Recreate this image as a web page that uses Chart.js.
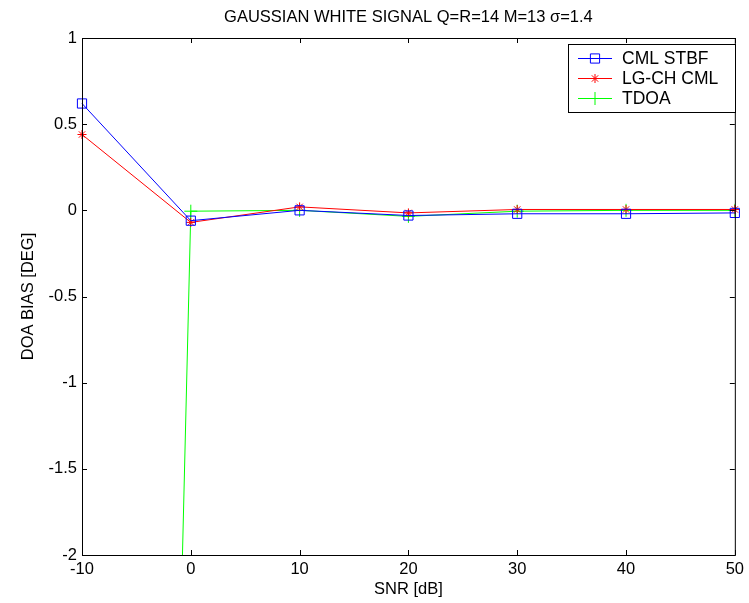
<!DOCTYPE html>
<html><head><meta charset="utf-8">
<script src="https://cdn.jsdelivr.net/npm/chart.js@4/dist/chart.umd.min.js"></script>
<style>html,body{margin:0;padding:0;background:#fff}#wrap{width:749px;height:603px}</style>
</head><body><div id="wrap"><canvas id="c" width="749" height="603"></canvas></div>
<script>
const snr = [-10, 0, 10, 20, 30, 40, 50];
const cmlStbf = [0.62, -0.06, 0.0, -0.03, -0.02, -0.02, -0.015];
const lgChCml = [0.44, -0.07, 0.02, -0.015, 0.005, 0.005, 0.005];
const tdoa = [-26, -0.005, 0.0, -0.035, -0.005, 0.0, 0.0];
const xTicks = [-10, 0, 10, 20, 30, 40, 50];
const yTicks = [-2, -1.5, -1, -0.5, 0, 0.5, 1];
const titleText = 'GAUSSIAN WHITE SIGNAL Q=R=14 M=13 \u03c3=1.4';
const seriesNames = ['CML STBF', 'LG-CH CML', 'TDOA'];

const FONT = '"Liberation Sans", Arial, sans-serif';
const FS = 16.5;
const pts = arr => snr.map((x, i) => ({x, y: arr[i]}));

const boxPlugin = {
  id: 'box',
  afterDraw(chart) {
    const {ctx, chartArea: a, scales} = chart;
    ctx.save();
    ctx.strokeStyle = '#000'; ctx.lineWidth = 1;
    ctx.strokeRect(a.left + 0.5, a.top + 0.5, a.right - a.left, a.bottom - a.top);
    ctx.beginPath();
    const L = 5;
    xTicks.forEach(v => {
      const px = Math.round(scales.x.getPixelForValue(v)) + 0.5;
      ctx.moveTo(px, a.bottom); ctx.lineTo(px, a.bottom - L);
      ctx.moveTo(px, a.top); ctx.lineTo(px, a.top + L);
    });
    yTicks.forEach(v => {
      const py = Math.round(scales.y.getPixelForValue(v)) + 0.5;
      ctx.moveTo(a.left, py); ctx.lineTo(a.left + L, py);
      ctx.moveTo(a.right, py); ctx.lineTo(a.right - L, py);
    });
    ctx.stroke();
    // title
    ctx.fillStyle = '#000';
    ctx.font = '16.5px ' + FONT;
    ctx.textAlign = 'center'; ctx.textBaseline = 'middle';
    ctx.fillText(titleText, (a.left + a.right) / 2, 17);
    // legend
    const lx = 568, ly = 44, lw = 167, lh = 68;
    ctx.fillStyle = '#fff';
    ctx.fillRect(lx, ly, lw, lh);
    ctx.strokeRect(lx + 0.5, ly + 0.5, lw, lh);
    ctx.font = '17.5px ' + FONT;
    ctx.textAlign = 'left';
    chart.data.datasets.forEach((ds, i) => {
      const y = 58 + i * 20 + 0.5;
      ctx.strokeStyle = ds.borderColor; ctx.lineWidth = 1;
      ctx.beginPath(); ctx.moveTo(578, y); ctx.lineTo(612, y); ctx.stroke();
      ctx.fillStyle = 'rgba(0,0,0,0)';
      Chart.helpers.drawPoint(ctx, {pointStyle: ds.pointStyle, radius: ds.pointRadius, rotation: 0, borderWidth: 1}, 595, y);
      ctx.fillStyle = '#000';
      ctx.fillText(seriesNames[i], 622, y + 1);
    });
    ctx.restore();
  }
};

new Chart(document.getElementById('c'), {
  type: 'line',
  data: {
    datasets: [
      {label: seriesNames[0], data: pts(cmlStbf), borderColor: '#0000ff', backgroundColor: 'rgba(0,0,0,0)', borderWidth: 1, pointStyle: 'rect', pointRadius: 6.5, pointBorderWidth: 1, pointBorderColor: '#0000ff', pointBackgroundColor: 'rgba(0,0,0,0)', tension: 0, clip: false},
      {label: seriesNames[1], data: pts(lgChCml), borderColor: '#ff0000', backgroundColor: '#ff0000', borderWidth: 1, pointStyle: 'star', pointRadius: 4.5, pointBorderWidth: 1, pointBorderColor: '#ff0000', tension: 0, clip: false},
      {label: seriesNames[2], data: pts(tdoa), borderColor: '#00ff00', backgroundColor: '#00ff00', borderWidth: 1, pointStyle: 'cross', pointRadius: 6.5, pointBorderWidth: 1, pointBorderColor: '#00ff00', tension: 0}
    ]
  },
  options: {
    responsive: false, animation: false,
    layout: {padding: {top: 38, right: 11, left: 0, bottom: 0}},
    plugins: {legend: {display: false}, tooltip: {enabled: false}, title: {display: false}},
    scales: {
      x: {
        type: 'linear', min: -10, max: 50,
        afterBuildTicks: s => { s.ticks = xTicks.map(v => ({value: v})); },
        afterFit: s => { s.height = 48; },
        grid: {display: false, drawTicks: false},
        border: {display: false},
        ticks: {color: '#000', font: {family: FONT, size: FS}, padding: 5, maxRotation: 0, callback: v => String(v)},
        title: {display: true, text: 'SNR [dB]', color: '#000', font: {family: FONT, size: FS}, padding: {top: 0, bottom: 4}}
      },
      y: {
        type: 'linear', min: -2, max: 1,
        afterBuildTicks: s => { s.ticks = yTicks.map(v => ({value: v})); },
        afterFit: s => { s.width = 82; },
        grid: {display: false, drawTicks: false},
        border: {display: false},
        ticks: {color: '#000', font: {family: FONT, size: FS}, padding: 5, callback: v => String(v)},
        title: {display: true, text: 'DOA BIAS [DEG]', color: '#000', font: {family: FONT, size: FS}, padding: {top: 19, bottom: 0}}
      }
    }
  },
  plugins: [boxPlugin]
});
</script>
</body></html>
